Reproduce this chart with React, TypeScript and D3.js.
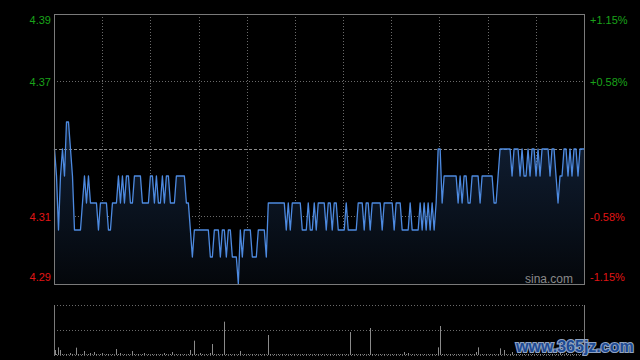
import React, { useEffect, useRef } from 'react';
import * as d3 from 'd3';

// intraday prices, one sample every ~2px across the session
const prices: number[] = [
  4.34, 4.33, 4.31, 4.33, 4.34, 4.33, 4.35, 4.35, 4.34, 4.33,
  4.31, 4.31, 4.31, 4.31, 4.32, 4.33, 4.32, 4.33, 4.32, 4.32,
  4.32, 4.32, 4.31, 4.32, 4.32, 4.32, 4.32, 4.31, 4.31, 4.32,
  4.32, 4.32, 4.33, 4.32, 4.33, 4.32, 4.33, 4.33, 4.32, 4.32,
  4.33, 4.33, 4.33, 4.33, 4.32, 4.32, 4.32, 4.32, 4.33, 4.33,
  4.32, 4.33, 4.32, 4.32, 4.33, 4.32, 4.33, 4.33, 4.32, 4.32,
  4.32, 4.33, 4.33, 4.33, 4.33, 4.33, 4.32, 4.32, 4.31, 4.30,
  4.31, 4.31, 4.31, 4.31, 4.31, 4.31, 4.31, 4.31, 4.30, 4.30,
  4.31, 4.31, 4.31, 4.30, 4.31, 4.31, 4.30, 4.31, 4.31, 4.30,
  4.30, 4.30, 4.29, 4.31, 4.30, 4.31, 4.31, 4.31, 4.31, 4.30,
  4.30, 4.30, 4.31, 4.31, 4.31, 4.31, 4.30, 4.32, 4.32, 4.32,
  4.32, 4.32, 4.32, 4.32, 4.32, 4.32, 4.31, 4.32, 4.31, 4.32,
  4.32, 4.32, 4.32, 4.32, 4.31, 4.31, 4.31, 4.32, 4.31, 4.31,
  4.32, 4.31, 4.32, 4.32, 4.32, 4.32, 4.31, 4.32, 4.32, 4.31,
  4.32, 4.32, 4.31, 4.31, 4.31, 4.31, 4.32, 4.31, 4.31, 4.31,
  4.31, 4.31, 4.32, 4.32, 4.32, 4.31, 4.32, 4.32, 4.31, 4.32,
  4.32, 4.32, 4.32, 4.32, 4.31, 4.32, 4.32, 4.32, 4.32, 4.32,
  4.31, 4.32, 4.32, 4.32, 4.31, 4.31, 4.31, 4.31, 4.32, 4.31,
  4.31, 4.31, 4.31, 4.32, 4.31, 4.32, 4.31, 4.32, 4.31, 4.32,
  4.31, 4.32, 4.34, 4.34, 4.32, 4.33, 4.33, 4.33, 4.33, 4.33,
  4.33, 4.33, 4.32, 4.33, 4.32, 4.33, 4.33, 4.32, 4.32, 4.33,
  4.33, 4.33, 4.33, 4.32, 4.33, 4.33, 4.33, 4.33, 4.33, 4.33,
  4.32, 4.32, 4.33, 4.34, 4.34, 4.34, 4.34, 4.34, 4.34, 4.33,
  4.34, 4.34, 4.34, 4.33, 4.34, 4.33, 4.33, 4.34, 4.33, 4.34,
  4.34, 4.33, 4.34, 4.33, 4.34, 4.34, 4.34, 4.34, 4.33, 4.34,
  4.34, 4.33, 4.32, 4.33, 4.33, 4.34, 4.34, 4.33, 4.34, 4.33,
  4.34, 4.34, 4.33, 4.34, 4.34, 4.34
];

// volume for the same samples
const volumes: number[] = [
  15, 3, 23, 15, 3, 2, 3, 2, 6, 3,
  2, 22, 3, 2, 3, 12, 2, 3, 6, 2,
  9, 3, 2, 3, 6, 2, 3, 3, 2, 3,
  2, 18, 3, 6, 2, 3, 2, 3, 2, 12,
  3, 2, 3, 2, 3, 6, 2, 3, 2, 3,
  2, 3, 2, 3, 2, 6, 3, 2, 3, 9,
  2, 3, 2, 3, 2, 3, 2, 3, 15, 3,
  43, 3, 2, 6, 3, 2, 3, 2, 6, 33,
  3, 2, 3, 2, 3, 100, 3, 2, 3, 2,
  3, 2, 3, 12, 2, 3, 2, 3, 2, 3,
  2, 3, 2, 3, 2, 3, 2, 60, 3, 2,
  3, 2, 3, 2, 3, 2, 3, 2, 3, 2,
  3, 2, 3, 2, 3, 2, 3, 2, 3, 2,
  3, 2, 3, 2, 3, 2, 3, 2, 3, 2,
  3, 2, 3, 2, 3, 2, 3, 2, 69, 3,
  2, 3, 2, 3, 2, 3, 2, 3, 81, 3,
  2, 3, 2, 3, 2, 3, 2, 3, 2, 3,
  2, 3, 2, 3, 2, 9, 3, 6, 2, 3,
  2, 3, 2, 3, 2, 3, 2, 3, 2, 3,
  2, 3, 23, 87, 3, 2, 3, 2, 3, 2,
  3, 2, 3, 2, 3, 2, 3, 2, 3, 2,
  3, 9, 23, 2, 3, 2, 3, 2, 3, 2,
  3, 2, 3, 20, 2, 15, 3, 2, 3, 9,
  2, 3, 2, 3, 2, 3, 2, 3, 2, 3,
  2, 3, 2, 3, 2, 3, 2, 3, 2, 3,
  2, 3, 2, 9, 3, 2, 6, 3, 2, 3,
  2, 3, 2, 3, 2, 3
];

const prevClose = 4.34;
const priceTicks = [4.39, 4.365, 4.315, 4.29];
const priceLabels = ['4.39', '4.37', '4.31', '4.29'];
const pctLabels = ['+1.15%', '+0.58%', '-0.58%', '-1.15%'];

const W = 640;
const H = 360;

function App() {
  const ref = useRef<SVGSVGElement>(null);

  useEffect(() => {
    const svg = d3.select(ref.current);
    svg.selectAll('*').remove();

    const left = 54;
    const right = 584;
    const top = 14;
    const bottom = 284;
    const volTop = 305;
    const volBottom = 355;

    const x = d3.scaleLinear().domain([0, prices.length - 1]).range([left + 0.5, right]);
    const y = d3.scaleLinear().domain([4.29, 4.39]).range([bottom, top]);
    const vy = d3.scaleLinear().domain([0, 150]).range([volBottom, volTop]);

    svg.append('rect').attr('width', W).attr('height', H).attr('fill', '#000');

    const defs = svg.append('defs');
    const grad = defs.append('linearGradient')
      .attr('id', 'areaFill')
      .attr('x1', 0).attr('y1', 0).attr('x2', 0).attr('y2', 1);
    grad.append('stop').attr('offset', '0%').attr('stop-color', '#112036');
    grad.append('stop').attr('offset', '100%').attr('stop-color', '#04070b');

    // vertical grid
    const cols = 11;
    for (let k = 1; k < cols; k++) {
      const gx = Math.round(left + (k * (right - left)) / cols) + 0.5;
      svg.append('line')
        .attr('x1', gx).attr('x2', gx).attr('y1', top).attr('y2', bottom)
        .attr('stroke', '#6a6a6a').attr('stroke-dasharray', '1,2');
    }

    // horizontal grid
    [4.365, 4.315].forEach(v => {
      const gy = Math.round(y(v)) + 0.5;
      svg.append('line')
        .attr('x1', left).attr('x2', right).attr('y1', gy).attr('y2', gy)
        .attr('stroke', '#6a6a6a').attr('stroke-dasharray', '1,2');
    });

    // area + line
    const area = d3.area<number>()
      .x((d, i) => x(i))
      .y0(bottom)
      .y1(d => y(d));
    svg.append('path').datum(prices).attr('d', area).attr('fill', 'url(#areaFill)');

    // prev close line
    const cy = Math.round(y(prevClose)) + 0.5;
    svg.append('line')
      .attr('x1', left).attr('x2', right).attr('y1', cy).attr('y2', cy)
      .attr('stroke', '#8c8c8c').attr('stroke-dasharray', '3,2');

    const line = d3.line<number>()
      .x((d, i) => x(i))
      .y(d => y(d));
    svg.append('path').datum(prices).attr('d', line)
      .attr('fill', 'none').attr('stroke', '#4d8ae0').attr('stroke-width', 1.3)
      .attr('stroke-linejoin', 'round');

    // frame of price panel
    svg.append('rect')
      .attr('x', left + 0.5).attr('y', top + 0.5)
      .attr('width', right - left).attr('height', bottom - top)
      .attr('fill', 'none').attr('stroke', '#7a7a7a');

    // axis labels
    const lblStyle = (sel: any) => sel
      .attr('font-family', 'Liberation Sans, Arial, sans-serif')
      .attr('font-size', 11);
    priceTicks.forEach((v, i) => {
      const ty = y(v);
      const dy = i === 0 ? 10 : i === priceTicks.length - 1 ? -3 : 4;
      const col = v > prevClose ? '#1aa31a' : '#e01515';
      svg.append('text').call(lblStyle)
        .attr('x', 51).attr('y', ty + dy).attr('text-anchor', 'end')
        .attr('fill', col).text(priceLabels[i]);
      svg.append('text').call(lblStyle)
        .attr('x', 590).attr('y', ty + dy).attr('text-anchor', 'start')
        .attr('fill', col).text(pctLabels[i]);
    });

    svg.append('text')
      .attr('x', 573).attr('y', 283).attr('text-anchor', 'end')
      .attr('font-family', 'Liberation Sans, Arial, sans-serif').attr('font-size', 12)
      .attr('fill', '#8a8a8a').text('sina.com');

    // volume panel
    [volTop, (volTop + volBottom) / 2, volBottom].forEach(gy => {
      svg.append('line')
        .attr('x1', left).attr('x2', right)
        .attr('y1', Math.round(gy) + 0.5).attr('y2', Math.round(gy) + 0.5)
        .attr('stroke', '#6a6a6a').attr('stroke-dasharray', '1,2');
    });
    [left, right].forEach(gx => {
      svg.append('line')
        .attr('x1', gx + 0.5).attr('x2', gx + 0.5).attr('y1', volTop).attr('y2', volBottom + 1)
        .attr('stroke', '#7a7a7a');
    });

    svg.selectAll('.vol')
      .data(volumes)
      .enter().append('line')
      .attr('class', 'vol')
      .attr('x1', (d, i) => Math.round(x(i)) + 0.5)
      .attr('x2', (d, i) => Math.round(x(i)) + 0.5)
      .attr('y1', vy(0))
      .attr('y2', d => vy(d))
      .attr('stroke', '#8a8a8a');

    // watermark
    svg.append('text')
      .attr('x', 516).attr('y', 352)
      .attr('font-family', 'Liberation Sans, Arial, sans-serif')
      .attr('font-size', 16).attr('font-weight', 'bold')
      .attr('fill', '#1d4a94').attr('stroke', '#8fa3c2').attr('stroke-width', 2.2)
      .attr('paint-order', 'stroke')
      .text('www.365jz.com');
  }, []);

  return (
    <svg ref={ref} width={W} height={H}
      style={{ position: 'absolute', left: 0, top: 0, display: 'block' }} />
  );
}

export default App;
